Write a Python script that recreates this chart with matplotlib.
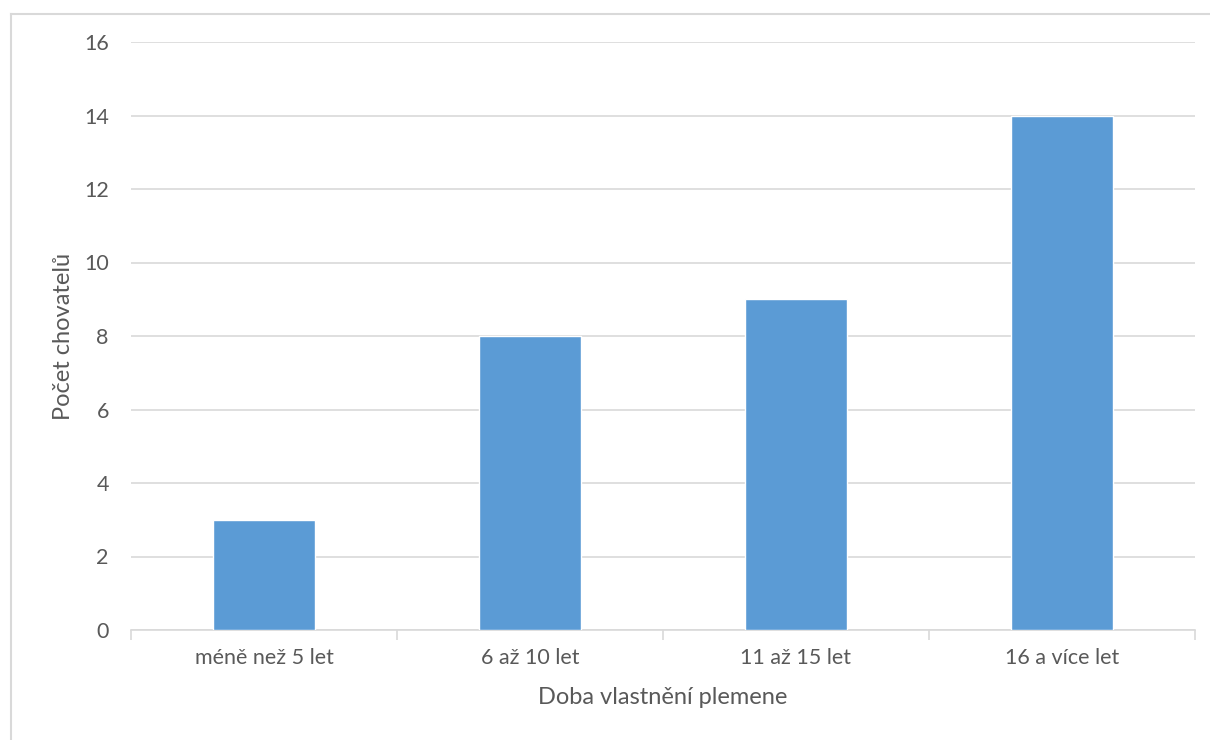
import matplotlib.pyplot as plt
import numpy as np

kategorie = ['méně než 5 let', '6 až 10 let', '11 až 15 let', '16 a více let']
pocty = [3, 8, 9, 14]
y_ticks = [0, 2, 4, 6, 8, 10, 12, 14, 16]

plt.rcParams['font.family'] = ['Lato', 'DejaVu Sans']

fig = plt.figure(figsize=(12.1, 7.4), dpi=100)
ax = fig.add_axes([131 / 1210, 1 - 630 / 740, (1195 - 131) / 1210, (630 - 42) / 740])

# ramecek grafu (vidi se jen levy a horni okraj)
fig.add_artist(plt.Line2D([11 / 1210, 11 / 1210], [0, 1 - 14 / 740], transform=fig.transFigure,
                          color='#d9d9d9', lw=1.5))
fig.add_artist(plt.Line2D([11 / 1210, 1], [1 - 14 / 740, 1 - 14 / 740], transform=fig.transFigure,
                          color='#d9d9d9', lw=1.5))

x = np.arange(len(kategorie))
ax.bar(x, pocty, width=0.385, color='#5b9bd5', edgecolor='white', linewidth=1, zorder=3)

ax.set_xlim(-0.5, len(kategorie) - 0.5)
ax.set_ylim(0, 16)
ax.set_yticks(y_ticks)
ax.yaxis.grid(True, color='#d9d9d9', linewidth=1.2, zorder=0)

ax.set_xticks(x)
ax.set_xticklabels(kategorie)
ax.set_xticks(np.arange(-0.5, len(kategorie)), minor=True)
ax.tick_params(axis='x', which='major', length=0, pad=13, labelsize=15.5, labelcolor='#595959')
ax.tick_params(axis='x', which='minor', length=7, width=1.2, color='#d9d9d9')
ax.tick_params(axis='y', length=0, pad=16, labelsize=15.5, labelcolor='#595959')

for s in ['top', 'right', 'left']:
    ax.spines[s].set_visible(False)
ax.spines['bottom'].set_color('#d9d9d9')
ax.spines['bottom'].set_linewidth(1.2)

ax.set_xlabel('Doba vlastnění plemene', fontsize=17, color='#595959', labelpad=14)
ax.set_ylabel('Počet chovatelů', fontsize=17, color='#595959', labelpad=7)

fig.savefig('out.png', dpi=100)
